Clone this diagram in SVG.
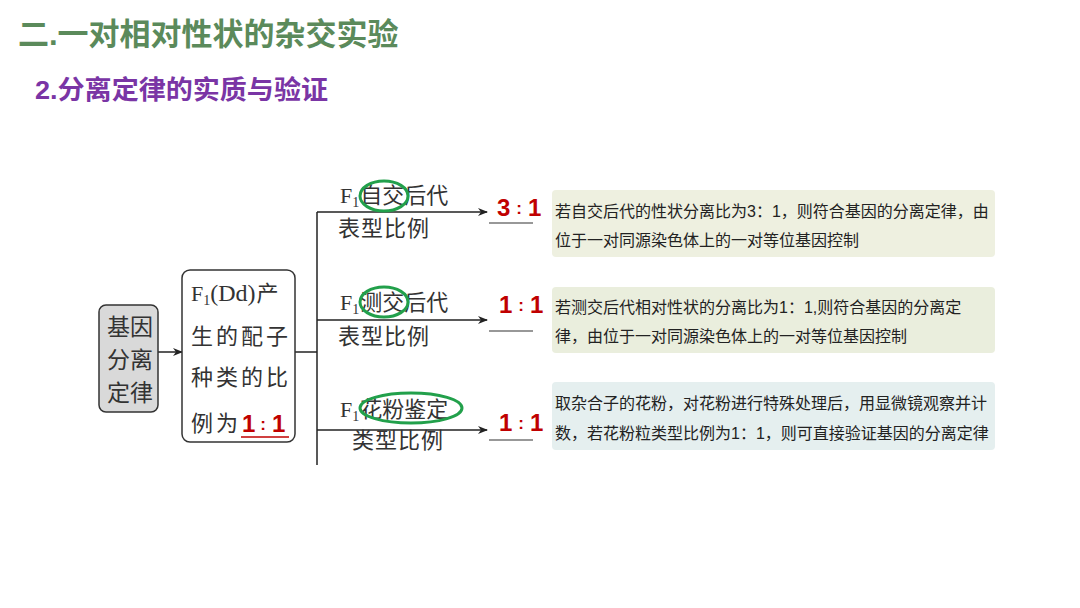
<svg xmlns="http://www.w3.org/2000/svg" width="1080" height="608" viewBox="0 0 1080 608">
<defs>
<marker id="ah" markerWidth="10" markerHeight="8" refX="9" refY="4" orient="auto" markerUnits="userSpaceOnUse">
<path d="M0,0 L10,4 L0,8 L3,4 Z" fill="#222"/>
</marker>
<style>
.serif{font-family:"Liberation Serif","Noto Sans CJK SC",serif;fill:#333;}
.sans{font-family:"Liberation Sans","Noto Sans CJK SC",sans-serif;fill:#222;font-size:16px;}
.ratio{font-family:"Liberation Sans","Noto Sans CJK SC",sans-serif;fill:#c00000;font-weight:bold;font-size:24px;}
.line{stroke:#222;stroke-width:1.5;fill:none;}
.ul{stroke:#333;stroke-width:1.2;}
.oval{fill:none;stroke:#22a04b;stroke-width:3;}
</style>
</defs>
<rect width="1080" height="608" fill="#ffffff"/>
<g id="title">
<text x="18" y="45" font-family="Liberation Sans,'Noto Sans CJK SC',sans-serif" font-size="31" font-weight="bold" fill="#5b8a5b">二.一对相对性状的杂交实验</text>
<text x="35" y="99" font-family="Liberation Sans,'Noto Sans CJK SC',sans-serif" font-size="26" font-weight="bold" fill="#7a35a5" textLength="293" lengthAdjust="spacingAndGlyphs">2.分离定律的实质与验证</text>
</g>
<g id="connectors">
<line class="line" x1="158" y1="352" x2="182" y2="352" marker-end="url(#ah)"/>
<line class="line" x1="295" y1="352" x2="317" y2="352"/>
<line class="line" x1="317" y1="212" x2="317" y2="465"/>
<line class="line" x1="317" y1="212" x2="487" y2="212" marker-end="url(#ah)"/>
<line class="line" x1="317" y1="320" x2="487" y2="320" marker-end="url(#ah)"/>
<line class="line" x1="317" y1="430" x2="487" y2="430" marker-end="url(#ah)"/>
</g>
<g id="node-law">
<rect x="99" y="305" width="59" height="107" rx="7" fill="#d9d9d9" stroke="#333" stroke-width="1.5"/>
<text class="serif" font-size="23" x="107" y="335">基因</text>
<text class="serif" font-size="23" x="107" y="368">分离</text>
<text class="serif" font-size="23" x="107" y="401">定律</text>
</g>
<g id="node-gamete">
<rect x="182" y="270" width="113" height="172" rx="8" fill="#ffffff" stroke="#333" stroke-width="1.5"/>
<text class="serif" font-size="22" x="191" y="301">F<tspan font-size="14" dy="4">1</tspan><tspan dy="-4" font-size="24">(Dd)</tspan><tspan dx="1">产</tspan></text>
<text class="serif" font-size="22" x="191" y="344" letter-spacing="3">生的配子</text>
<text class="serif" font-size="22" x="191" y="385" letter-spacing="3">种类的比</text>
<text class="serif" font-size="22" x="191" y="431" letter-spacing="3">例为</text>
<text class="ratio" x="242" y="432">1<tspan font-size="17" dx="5" dy="-2">:</tspan><tspan dx="6" dy="2">1</tspan></text>
<line x1="241" y1="437" x2="289" y2="437" stroke="#c00000" stroke-width="1.5"/>
</g>
<g id="node-selfing">
<text class="serif" font-size="22" x="340" y="203">F<tspan font-size="14" dy="4">1</tspan><tspan dy="-4" dx="1">自交后代</tspan></text>
<text class="serif" font-size="22" x="338" y="236" letter-spacing="1">表型比例</text>
<ellipse class="oval" cx="384" cy="196" rx="24" ry="15"/>
<text class="ratio" x="497" y="216">3<tspan font-size="17" dx="6" dy="-2">:</tspan><tspan dx="6" dy="2">1</tspan></text>
<line class="ul" x1="489" y1="223" x2="533" y2="223"/>
<rect x="552" y="190" width="443" height="67" rx="4" fill="#eef0e0"/>
<text class="sans" x="555" y="217">若自交后代的性状分离比为3：1，则符合基因的分离定律，由</text>
<text class="sans" x="555" y="246">位于一对同源染色体上的一对等位基因控制</text>
</g>
<g id="node-testcross">
<text class="serif" font-size="22" x="340" y="310">F<tspan font-size="14" dy="4">1</tspan><tspan dy="-4" dx="1">测交后代</tspan></text>
<text class="serif" font-size="22" x="338" y="344" letter-spacing="1">表型比例</text>
<ellipse class="oval" cx="384" cy="302" rx="24" ry="15"/>
<text class="ratio" x="499" y="313">1<tspan font-size="17" dx="6" dy="-2">:</tspan><tspan dx="6" dy="2">1</tspan></text>
<line class="ul" x1="489" y1="331" x2="533" y2="331"/>
<rect x="552" y="287" width="443" height="66" rx="4" fill="#eaeedd"/>
<text class="sans" x="555" y="313">若测交后代相对性状的分离比为1：1,则符合基因的分离定</text>
<text class="sans" x="555" y="342">律，由位于一对同源染色体上的一对等位基因控制</text>
</g>
<g id="node-pollen">
<text class="serif" font-size="22" x="340" y="417">F<tspan font-size="14" dy="4">1</tspan><tspan dy="-4" dx="1">花粉鉴定</tspan></text>
<text class="serif" font-size="22" x="352" y="448" letter-spacing="1">类型比例</text>
<ellipse class="oval" cx="411" cy="408" rx="51" ry="15"/>
<text class="ratio" x="499" y="431">1<tspan font-size="17" dx="6" dy="-2">:</tspan><tspan dx="6" dy="2">1</tspan></text>
<line class="ul" x1="489" y1="440" x2="533" y2="440"/>
<rect x="552" y="382" width="443" height="68" rx="4" fill="#e5efef"/>
<text class="sans" x="555" y="409">取杂合子的花粉，对花粉进行特殊处理后，用显微镜观察并计</text>
<text class="sans" x="555" y="439">数，若花粉粒类型比例为1：1，则可直接验证基因的分离定律</text>
</g>
</svg>
